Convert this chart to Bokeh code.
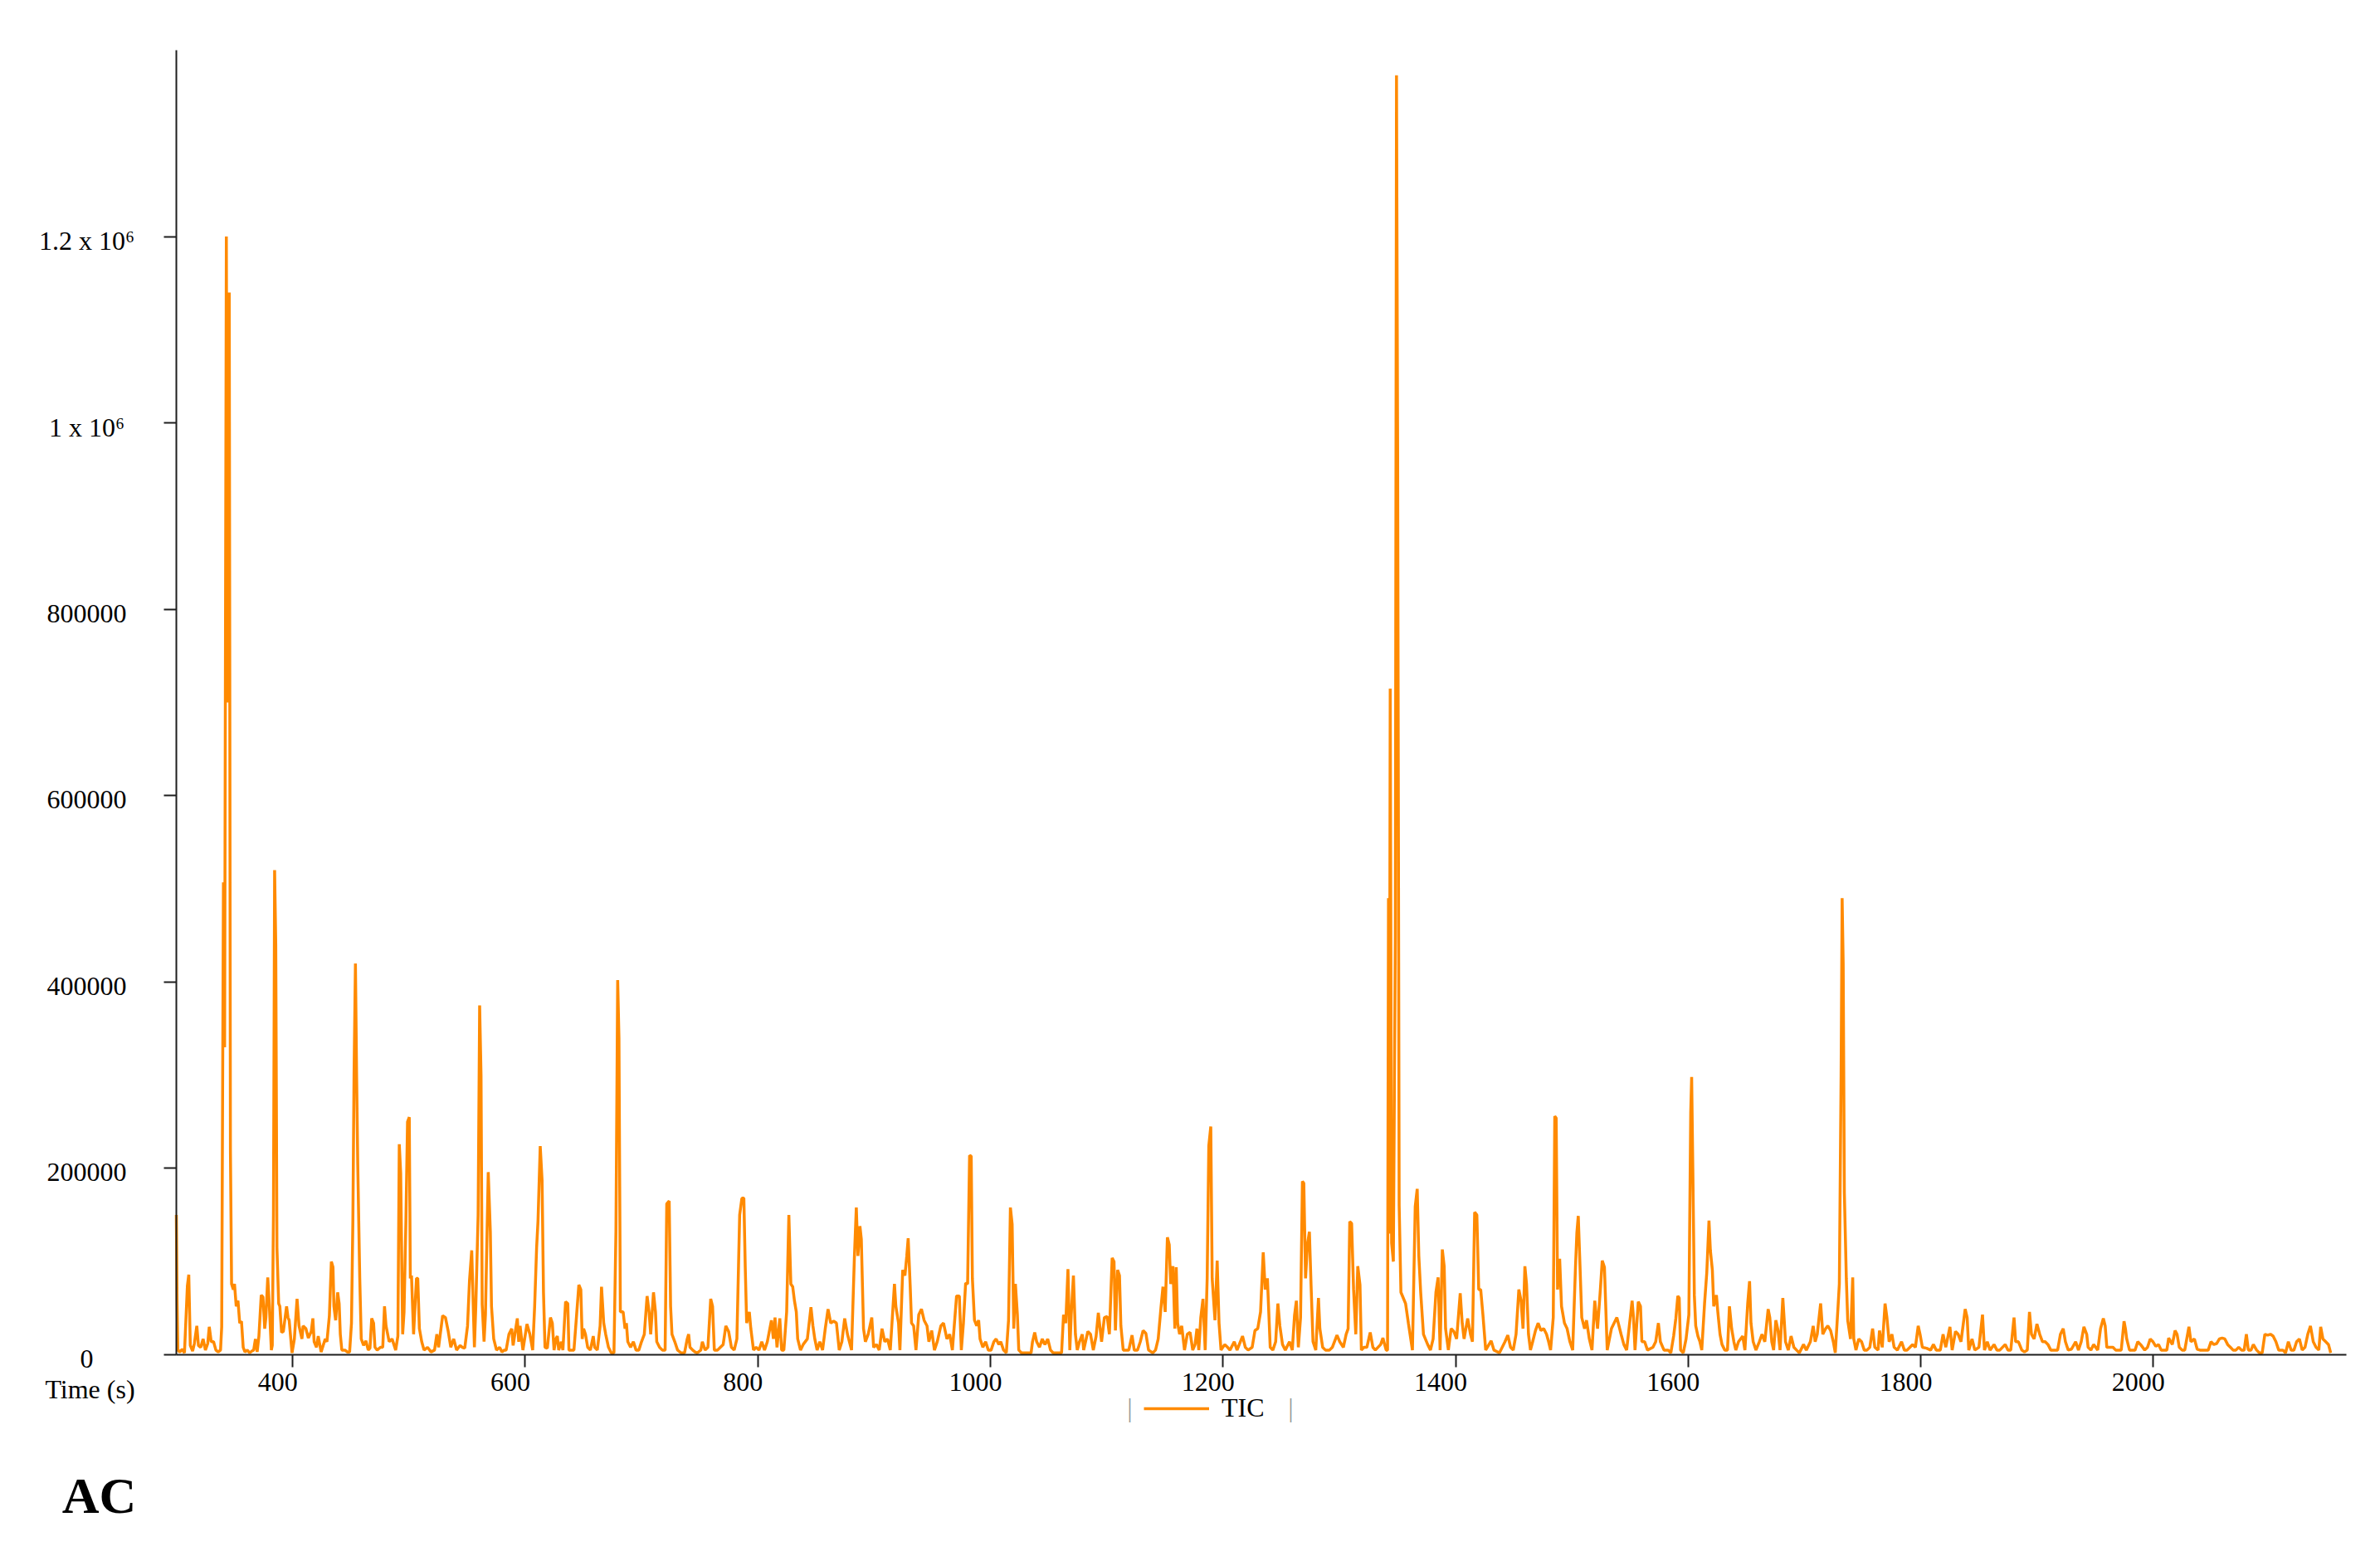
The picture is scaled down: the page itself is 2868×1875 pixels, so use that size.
from bokeh.plotting import figure
from bokeh.models import Range1d, FixedTicker, Legend, LegendItem, Label, LabelSet, ColumnDataSource
from bokeh.embed import file_html
from bokeh.resources import INLINE

# TIC chromatogram: (time in s, intensity in thousands of counts)
tic_300_617 = [(300.0,150),(300.6,60),(301.3,5),(303,3),(305,6),(307,2),(309.5,74),(310.7,86),(312,10),(314,4),(315.5,12),(317.6,31),(319,10),(321,8),(323,17),(325,5),(327,12),(328.3,30),(330,14),(332,14),(334,5),(336,3),(338,5),(339,30),(340.5,507),(341.5,330),(343.0,1200),(344.0,700),(345.5,1140),(346.5,220),(347.5,76),(349,70),(350,76),(351.5,52),(353,58),(354.5,34),(356,36),(357.5,8),(359,3),(361,5),(363,2),(365,4),(366.5,5),(368,17),(369.5,3),(371,20),(373,64),(374.5,62),(376,28),(377,40),(378.6,83),(380,52),(381.7,5),(382.5,10),(383.5,150),(384.5,520),(385.5,440),(386.5,115),(388,55),(389,52),(390.5,24),(392,25),(394.8,52),(396,40),(397,37),(399.5,2),(401.5,17),(403.8,60),(405.5,31),(408,17),(409,31),(411.4,28),(413.5,18),(416,25),(417.4,39),(418.5,14),(420.5,8),(422,20),(424.5,3),(428,17),(429.5,14),(431.6,42),(433.3,100),(434.7,94),(435.5,52),(437,37),(438.7,67),(440,55),(441,22),(442.3,5),(445,5),(447,3),(449,3),(450.6,34),(451.8,144),(452.8,300),(454.0,420),(455.0,300),(456.0,204),(457.7,83),(459,17),(461,10),(463,15),(465,5),(466.5,7),(468,39),(469.6,34),(470.8,8),(472.7,5),(475.5,8),(477.5,8),(479,52),(480.3,31),(483,14),(485.5,17),(488.6,5),(490.5,20),(491.7,226),(492.9,195),(494.6,22),(495.8,46),(497.4,144),(498.8,250),(500.3,255),(501.2,82),(502.2,85),(504,22),(506.5,82),(507.6,82),(509,28),(511,14),(513,5),(516,8),(519,3),(522,5),(524,22),(525.5,8),(529,42),(531.4,40),(533.8,25),(536,8),(538.5,17),(541,5),(544,10),(546,8),(548,7),(550.4,31),(552.1,80),(554,112),(556.3,8),(557.5,52),(559.5,150),(560.8,375),(562,300),(563,54),(564.6,14),(565.8,43),(568.2,196),(570,132),(571,52),(572.9,17),(575.3,5),(578,8),(580,3),(582,5),(583.6,5),(586,22),(588.4,28),(589.6,10),(593.2,39),(594.4,14),(595.6,31),(598,5),(601.5,33),(604,22),(606.4,5),(608.1,52),(609.8,115),(611,144),(612.9,224),(614.5,187),(615.7,67),(617,8)]

tic_619_936 = [(619,7),(621.7,40),(623.3,34),(624.8,5),(626.4,17),(627.6,20),(628.8,5),(631,14),(632.4,5),(634.7,57),(636.6,55),(637.6,5),(641.9,5),(644.2,43),(646.1,75),(647.8,70),(649,17),(650.2,28),(651.8,22),(653.7,8),(656,5),(658.5,20),(659.7,8),(662,5),(664.4,31),(665.6,73),(667.5,34),(669.2,22),(671.6,8),(674,2),(676.3,2),(678,132),(679.5,402),(680.6,340),(681.8,46),(684.2,46),(685.8,28),(687,34),(688.2,14),(690.6,8),(693,14),(695.3,5),(697.7,5),(700,14),(702.4,22),(704.8,63),(706.5,46),(707.9,22),(710.3,67),(712,46),(713.1,14),(715.5,8),(717.9,5),(720.3,5),(721.7,162),(723.8,165),(725,52),(726.2,22),(728.6,14),(731,5),(734,2),(737,2),(739.3,17),(740.5,22),(741.7,8),(744,5),(746,3),(748,2),(751,5),(752.3,14),(754.7,5),(757.1,8),(759.5,60),(761.1,52),(762.6,5),(765.4,5),(767.8,8),(770.2,11),(772.5,31),(774.9,25),(777.3,8),(779.7,5),(782,17),(784.4,150),(786.3,168),(788,168),(789.2,94),(790.4,34),(792.7,46),(794,28),(796.3,5),(798.6,8),(801,5),(803.4,14),(805.8,5),(808.2,14),(811.7,37),(813.4,17),(814.8,40),(816.5,8),(818.9,39),(820.5,5),(822.4,5),(824.8,46),(826.7,150),(828.4,76),(830,73),(831.5,58),(833.1,46),(834.3,17),(836.7,5),(839,11),(842.6,17),(845.7,51),(847.4,31),(849,17),(851,5),(853.3,14),(855.7,5),(858,28),(860.4,49),(862.7,34),(865.2,36),(867.6,34),(870,5),(872.3,14),(874.7,39),(877.1,22),(880.6,5),(883,103),(884.7,158),(886.1,106),(887.8,138),(889,124),(890.9,28),(892.5,14),(894.9,22),(898,40),(899.6,8),(902,11),(904.4,5),(906.8,28),(909.2,14),(911.5,17),(913.9,5),(917.5,76),(918.7,52),(921,34),(922.2,5),(924.6,91),(926.5,85),(928.1,106),(929.3,125),(931,75),(932.2,34),(934,31),(936,5)]

tic_938_1240 = [(938.4,43),(940.7,49),(943,37),(945.5,31),(947.1,14),(949.5,26),(951.9,5),(954.3,14),(957.4,31),(959.7,34),(962.6,17),(965,22),(967.3,5),(970.9,63),(973.3,63),(975,5),(976.8,34),(978.7,77),(980.4,76),(982.1,214),(983.5,213),(984.5,82),(986.3,37),(988.2,31),(989.9,37),(991.1,17),(993.5,8),(995.9,14),(998.2,5),(1000.6,5),(1003,14),(1004.9,17),(1007.3,11),(1008.9,14),(1011.3,5),(1013.7,2),(1015.6,37),(1017.2,158),(1018.7,140),(1020.1,28),(1021.5,76),(1023.2,43),(1024.4,5),(1026.7,2),(1035,2),(1036.2,14),(1038.1,24),(1039.8,14),(1042.2,8),(1044.6,17),(1046.9,11),(1049.3,17),(1051.7,5),(1054,2),(1061.2,2),(1062.9,43),(1064.8,34),(1066.7,92),(1068.3,5),(1069.5,43),(1071.4,85),(1073.1,22),(1074.7,5),(1076.6,14),(1079,22),(1080.2,5),(1083.8,25),(1086.1,22),(1088.5,5),(1090.9,20),(1092.8,45),(1095.6,14),(1098,40),(1100.4,41),(1102.3,22),(1104.7,104),(1106.3,100),(1107.5,26),(1109.4,91),(1111,85),(1112.2,31),(1114.2,5),(1116.6,5),(1119,5),(1121.8,21),(1123.7,5),(1126.5,5),(1128.9,14),(1131.3,26),(1133.7,23),(1136,5),(1139.6,2),(1142,5),(1144.3,17),(1146.7,51),(1148.4,73),(1150.3,46),(1152.2,126),(1153.8,118),(1155,76),(1157,95),(1158.6,28),(1159.8,94),(1161,34),(1162.7,22),(1164.5,31),(1166.9,5),(1169.3,22),(1171.7,24),(1174,5),(1176,11),(1177.6,28),(1179.2,5),(1180.9,40),(1182.8,60),(1184.7,5),(1186.4,82),(1187.8,224),(1189.5,245),(1190.7,82),(1193.1,37),(1195,101),(1196.6,34),(1198.3,5),(1201.5,11),(1204,8),(1206,5),(1209.7,14),(1212.1,5),(1216.8,20),(1219.2,8),(1221.6,5),(1225.1,8),(1227.5,26),(1229.9,28),(1232.3,46),(1234.6,110),(1236.3,70),(1238.2,82),(1240.6,8)]

tic_1243_1552 = [(1242.9,5),(1245.3,14),(1247.2,55),(1248.9,31),(1251.2,11),(1253.6,5),(1257.2,14),(1259.6,5),(1261.5,42),(1263.1,58),(1264.8,8),(1266.7,40),(1268.3,186),(1269.5,184),(1271,82),(1272.6,118),(1274.3,132),(1275.7,76),(1277.4,14),(1279.8,5),(1282.1,61),(1283.3,28),(1285.7,8),(1288.1,5),(1291.6,5),(1294,8),(1298,21),(1300.4,14),(1303.5,8),(1305.9,22),(1307.6,28),(1309,143),(1310.6,141),(1312.3,70),(1314.2,22),(1315.9,95),(1317.8,75),(1319,5),(1321.3,8),(1323.7,8),(1326.6,24),(1328.9,8),(1331,5),(1335.6,11),(1337.5,18),(1340.3,5),(1341.5,5),(1342.3,490),(1343.0,130),(1343.8,715),(1345,120),(1346.5,100),(1348.2,450),(1349.2,1373),(1350.2,960),(1351.5,160),(1353,67),(1357,55),(1359.4,34),(1362.9,5),(1365.3,159),(1367,178),(1368.4,106),(1370,67),(1372.4,22),(1376,11),(1378.4,5),(1380.7,17),(1383.1,67),(1385,83),(1386.7,5),(1388.6,113),(1390.2,95),(1391.4,28),(1393.8,5),(1396.2,28),(1398.5,25),(1400.9,17),(1404,66),(1405.7,34),(1407.3,17),(1410.4,39),(1412.8,22),(1414.5,14),(1416.4,153),(1418.3,150),(1419.9,70),(1421.6,70),(1423.5,43),(1425.9,5),(1430.6,15),(1433,5),(1437.7,2),(1442.5,14),(1444.9,21),(1447.3,8),(1449.6,5),(1452,22),(1454.4,70),(1456.3,58),(1458,28),(1459.6,95),(1461,76),(1462.7,22),(1464.4,5),(1466.3,14),(1468.7,26),(1471,34),(1473.4,26),(1475.8,28),(1478.2,22),(1480,14),(1481.7,5),(1484,40),(1485.3,256),(1486.5,254),(1487.7,70),(1489.5,103),(1491.1,52),(1493.6,34),(1495.9,28),(1498.3,14),(1500.7,5),(1503.1,94),(1504.3,131),(1505.5,149),(1506.7,106),(1508.5,40),(1510.9,28),(1512.6,37),(1515,17),(1517.3,5),(1519.7,58),(1522.1,28),(1524.5,70),(1526.1,101),(1528,94),(1530.4,5),(1534,28),(1538.7,40),(1542.3,22),(1544.7,11),(1547.1,5),(1551.8,58)]

tic_1553_1863 = [(1553,40),(1554.3,5),(1557.1,57),(1559,52),(1560.2,14),(1562.6,14),(1565,5),(1569.7,8),(1572.1,14),(1574.4,34),(1576.1,14),(1579.2,5),(1582.8,5),(1585.1,2),(1587.5,20),(1589.4,39),(1591.1,63),(1592.3,61),(1593.5,5),(1595.8,2),(1598.2,17),(1600.6,43),(1602.2,260),(1603,298),(1604,200),(1605.3,64),(1606.5,31),(1608.4,20),(1610.1,14),(1611.7,5),(1614.1,55),(1616,88),(1617.9,144),(1619.1,112),(1620.8,91),(1622,52),(1624.3,64),(1625.5,46),(1627.4,22),(1629.1,11),(1631.5,5),(1633.8,5),(1635.5,52),(1637.4,28),(1639.3,14),(1641,5),(1643.3,14),(1646.9,20),(1648.8,5),(1651.2,55),(1652.8,79),(1654,34),(1655.9,14),(1658.3,5),(1661.2,14),(1663.5,22),(1665.9,14),(1668.8,49),(1670.2,40),(1671.9,14),(1673.5,5),(1675.4,37),(1677.3,26),(1679,5),(1681.4,61),(1682.6,37),(1683.7,14),(1686.1,5),(1688.5,20),(1690.9,8),(1693.2,5),(1695.6,2),(1699.2,11),(1701.6,5),(1705.1,14),(1707.5,31),(1709.2,14),(1711,22),(1713.9,55),(1715.8,22),(1718.2,28),(1720.1,31),(1722.5,26),(1724.8,14),(1726.5,2),(1728.9,52),(1730,76),(1731.5,300),(1732.4,490),(1733.3,420),(1734.3,174),(1736,82),(1737.2,37),(1739.6,17),(1741.5,83),(1742.4,17),(1744.3,5),(1746.7,17),(1749.1,14),(1751.4,5),(1753.8,5),(1756.2,8),(1758.6,28),(1760.5,8),(1763.3,5),(1764.5,26),(1766.9,8),(1769.3,55),(1770.9,40),(1772.8,14),(1775.2,22),(1777.1,8),(1779.9,5),(1783.5,14),(1785.9,5),(1788.3,5),(1790.7,8),(1793,11),(1795.4,8),(1797.8,31),(1799.4,22),(1801.4,8),(1805,7),(1808.5,5),(1810.9,11),(1813.3,5),(1816.8,5),(1819.2,22),(1821.5,8),(1825.1,30),(1827,5),(1829.9,25),(1832.2,22),(1834.6,14),(1838.2,49),(1839.9,40),(1841.3,5),(1844.1,17),(1846.5,5),(1850,8),(1853.1,43),(1854.8,5),(1857.2,14),(1859.6,5),(1863,11)]

tic_1865_2153 = [(1865.5,5),(1868,5),(1872.6,11),(1875,5),(1877.4,5),(1880.2,40),(1881.6,14),(1884,14),(1886.9,5),(1889.2,3),(1891.6,5),(1893.5,46),(1895.2,22),(1897.5,17),(1899.9,33),(1902.3,22),(1904.7,14),(1907,14),(1909.4,11),(1911.8,5),(1914.2,5),(1917.7,5),(1920.1,22),(1922.5,28),(1924.4,14),(1926.8,5),(1929.6,6),(1933.2,14),(1935.6,5),(1938,14),(1940.3,30),(1942.7,22),(1943.9,8),(1946.3,5),(1948.6,11),(1952.2,5),(1954.6,28),(1957,39),(1958.6,31),(1960,8),(1962.4,8),(1965.3,8),(1967.6,5),(1970,5),(1972.4,5),(1974.8,36),(1976,28),(1977.1,17),(1979.5,5),(1981.9,5),(1984.3,5),(1986.6,14),(1989,11),(1992.6,5),(1995,8),(1997.3,17),(1999.7,14),(2002.1,9),(2004.5,11),(2006.8,5),(2009.2,5),(2011.6,5),(2013.2,18),(2016.3,11),(2018.7,26),(2020.4,22),(2022.3,8),(2024.7,5),(2027,5),(2030.6,30),(2032.3,14),(2035.3,17),(2037.7,6),(2040.1,5),(2043.7,5),(2047.2,5),(2049.6,14),(2052,11),(2054.4,12),(2056.8,17),(2059.1,18),(2061.5,17),(2063.9,11),(2066.3,8),(2068.6,5),(2071,5),(2073.4,8),(2075.8,5),(2078.1,5),(2080,22),(2081.7,5),(2084,5),(2086,11),(2088.8,5),(2091.2,2),(2093.6,2),(2095.9,22),(2098.3,21),(2100.7,22),(2103,20),(2105.4,14),(2107.8,5),(2111.4,5),(2113.7,2),(2116.1,14),(2118.5,5),(2120.9,5),(2123.2,14),(2125.6,17),(2128,5),(2130.4,8),(2132.8,22),(2135.1,31),(2137.5,14),(2139.9,8),(2142.3,5),(2143.9,30),(2145.8,17),(2148.2,14),(2150.6,11),(2152.5,2)]

x_ticks = [400, 600, 800, 1000, 1200, 1400, 1600, 1800, 2000]
x_tick_labels = ["400", "600", "800", "1000", "1200", "1400", "1600", "1800", "2000"]
y_ticks = [0, 200000, 400000, 600000, 800000, 1000000, 1200000]
y_tick_labels = ["0", "200000", "400000", "600000", "800000", "1 x 10\u2076", "1.2 x 10\u2076"]
x_axis_span = (300, 2166)
y_axis_span = (0, 1400000)
series_name = "TIC"
x_label = "Time (s)"
panel_label = "AC"

segments = [tic_300_617, tic_619_936, tic_938_1240, tic_1243_1552, tic_1553_1863, tic_1865_2153]
times = [t for seg in segments for t, v in seg]
intensity = [v * 1000 for seg in segments for t, v in seg]

# ---- layout (pixels) ----
W, H = 2852, 1859
AX_L, AX_T, AX_R, AX_B = 212, 60, 2827, 1632   # where the axis lines sit
X0, X1 = x_axis_span
Y0, Y1 = y_axis_span
sx = (AX_R - AX_L) / (X1 - X0)
sy = (AX_B - AX_T) / (Y1 - Y0)
x_range = Range1d(X0 - AX_L / sx, X1 + (W - AX_R) / sx)
y_range = Range1d(Y0 - (H - AX_B) / sy, Y1 + AX_T / sy)

FONT = "Liberation Serif"
ORANGE = "#ff8a00"
AXIS_COLOR = "#1e1e1e"
TICK_FONT_SIZE = "32px"

p = figure(width=W, height=H, output_backend="svg", toolbar_location=None,
           x_range=x_range, y_range=y_range, min_border=0,
           background_fill_color="white", border_fill_color="white")
p.outline_line_color = None
p.xgrid.visible = False
p.ygrid.visible = False

r = p.line(times, intensity, line_color=ORANGE, line_width=3.5)

for ax in (p.xaxis[0], p.yaxis[0]):
    ax.axis_line_color = AXIS_COLOR
    ax.axis_line_width = 2
    ax.major_tick_line_color = AXIS_COLOR
    ax.major_tick_line_width = 2
    ax.major_tick_out = 15
    ax.major_tick_in = 0
    ax.minor_tick_out = 0
    ax.minor_tick_in = 0
    ax.major_label_text_color = None   # tick labels are drawn by the LabelSets below

p.xaxis.fixed_location = Y0
p.xaxis.bounds = (X0, X1)
p.xaxis.ticker = FixedTicker(ticks=x_ticks)

p.yaxis.fixed_location = X0
p.yaxis.bounds = (Y0, Y1)
p.yaxis.ticker = FixedTicker(ticks=y_ticks)

# tick labels (centred, as in the reference)
xlab_src = ColumnDataSource(dict(x=x_ticks, y=[Y0] * len(x_ticks), text=x_tick_labels))
p.add_layout(LabelSet(x="x", y="y", text="text", source=xlab_src,
                      x_offset=-18, y_offset=-33, text_align="center", text_baseline="middle",
                      text_font=FONT, text_font_size=TICK_FONT_SIZE, text_color="black"))
ylab_src = ColumnDataSource(dict(x=[X0] * len(y_ticks), y=y_ticks, text=y_tick_labels))
p.add_layout(LabelSet(x="x", y="y", text="text", source=ylab_src,
                      x_offset=-108, y_offset=-5, text_align="center", text_baseline="middle",
                      text_font=FONT, text_font_size=TICK_FONT_SIZE, text_color="black"))

legend = Legend(items=[LegendItem(label=series_name, renderers=[r])],
                location=(1378, H - 1715), orientation="horizontal",
                glyph_width=79, glyph_height=34, label_height=34, label_standoff=15,
                padding=0, margin=0, spacing=0,
                border_line_color=None, background_fill_alpha=0,
                label_text_font=FONT, label_text_font_size=TICK_FONT_SIZE, label_text_color="black")
p.add_layout(legend)

for off in (1149, 1343):
    p.add_layout(Label(x=X0, y=Y0, x_offset=off, y_offset=-63, text="|",
                       text_align="center", text_baseline="middle",
                       text_font=FONT, text_font_size=TICK_FONT_SIZE, text_color="#9a9a9a"))

p.add_layout(Label(x=X0, y=Y0, x_offset=-104, y_offset=-41, text=x_label,
                   text_align="center", text_baseline="middle",
                   text_font=FONT, text_font_size=TICK_FONT_SIZE, text_color="black"))

p.add_layout(Label(x=X0, y=Y0, x_offset=-93, y_offset=-169, text=panel_label,
                   text_align="center", text_baseline="middle",
                   text_font=FONT, text_font_size="62px", text_font_style="bold",
                   text_color="black"))

open("out.html", "w").write(file_html(p, INLINE))
